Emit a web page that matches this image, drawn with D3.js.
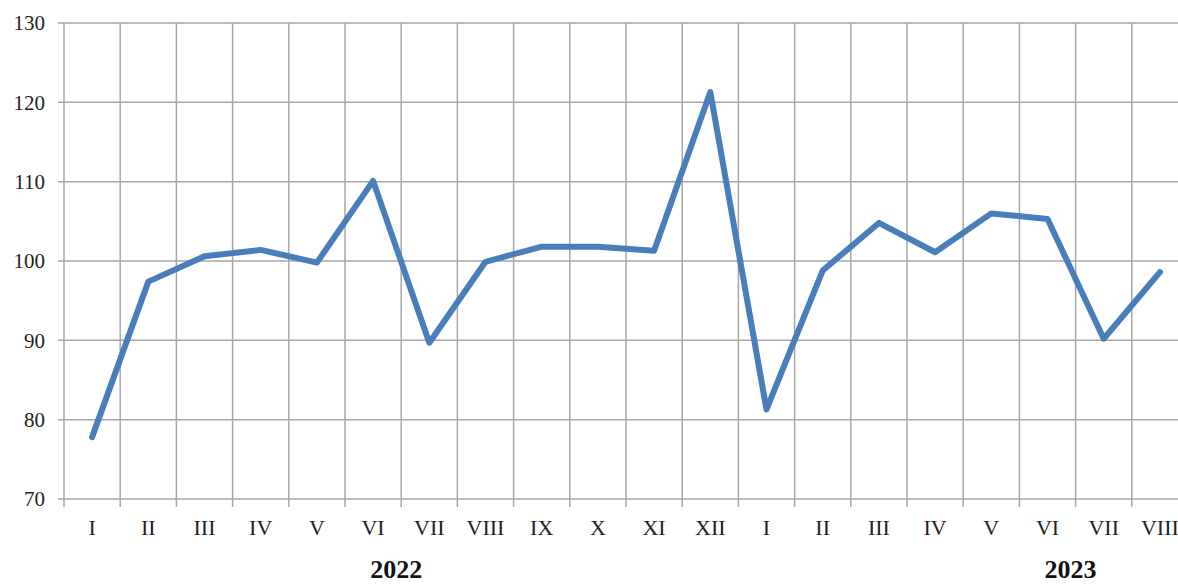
<!DOCTYPE html>
<html><head><meta charset="utf-8">
<script src="https://cdn.jsdelivr.net/npm/d3@7"></script>
<style>html,body{margin:0;padding:0;background:#fff;overflow:hidden}</style>
</head><body>
<svg id="c" width="1178" height="585"></svg>
<script>
const months = ["I","II","III","IV","V","VI","VII","VIII","IX","X","XI","XII","I","II","III","IV","V","VI","VII","VIII"];
const values = [77.8,97.4,100.6,101.4,99.8,110.1,89.7,99.9,101.8,101.8,101.3,121.3,81.3,98.8,104.8,101.1,106.0,105.3,90.2,98.6];
const yTicks = [70,80,90,100,110,120,130];
const years = [{label:"2022", at:6}, {label:"2023", at:18}];

(function(){
const svg = d3.select("#c");
const mL = 64, mR = 1188, mT = 23, mB = 499;
const x = d3.scaleBand().domain(d3.range(months.length)).range([mL, mR]);
const y = d3.scaleLinear().domain([70,130]).range([mB, mT]);
const grid = "#a6a6a6";
const font = "'Liberation Serif','Times New Roman',serif";

svg.append("g").selectAll("line").data(yTicks).join("line")
  .attr("x1", mL-6).attr("x2", 1178).attr("y1", d=>y(d)).attr("y2", d=>y(d))
  .attr("stroke", grid).attr("stroke-width", 1.5);
const bounds = d3.range(months.length+1).map(i => mL + i*x.bandwidth());
svg.append("g").selectAll("line").data(bounds).join("line")
  .attr("x1", d=>d).attr("x2", d=>d).attr("y1", mT).attr("y2", mB+8)
  .attr("stroke", grid).attr("stroke-width", 1.5);

svg.append("g").selectAll("text").data(yTicks).join("text")
  .attr("x", 45).attr("y", d=>y(d)).attr("dy","0.35em").attr("text-anchor","end")
  .attr("font-family", font).attr("font-size", 21).attr("fill","#222").text(d=>d);
svg.append("g").selectAll("text").data(months).join("text")
  .attr("x", (d,i)=>x(i)+x.bandwidth()/2).attr("y", 535).attr("text-anchor","middle")
  .attr("font-family", font).attr("font-size", 22).attr("fill","#222").text(d=>d);
svg.append("g").selectAll("text").data(years).join("text")
  .attr("x", d=>mL + d.at*x.bandwidth() - 5).attr("y", 578).attr("text-anchor","middle")
  .attr("font-family", font).attr("font-size", 26).attr("font-weight","bold").attr("fill","#111").text(d=>d.label);

const line = d3.line().x((d,i)=>x(i)+x.bandwidth()/2).y(d=>y(d));
svg.append("path").datum(values).attr("d", line).attr("fill","none")
  .attr("stroke","#4a7ebb").attr("stroke-width",6).attr("stroke-linejoin","round").attr("stroke-linecap","round");
})();
</script>
</body></html>
